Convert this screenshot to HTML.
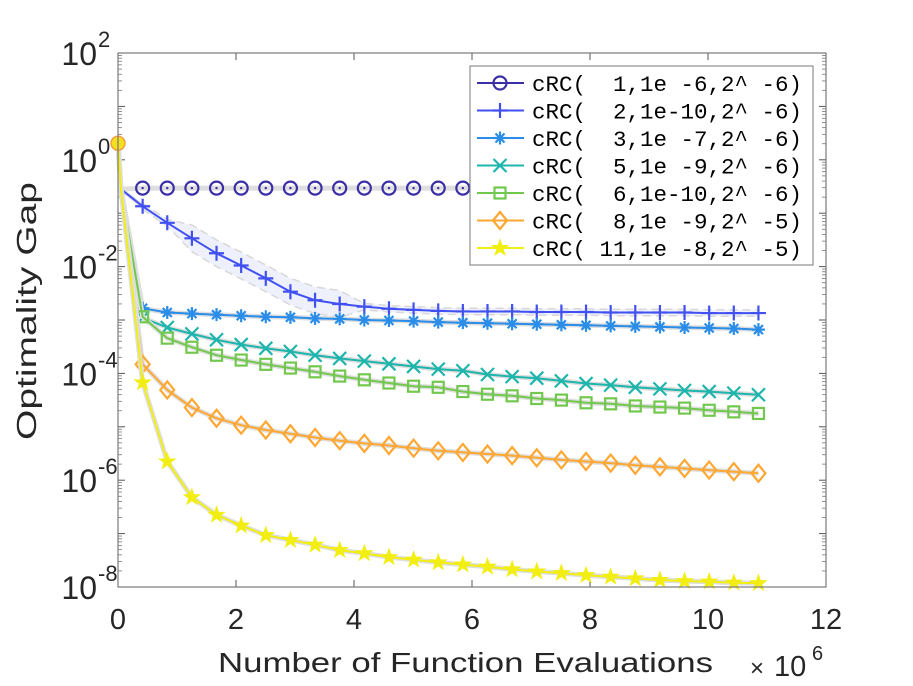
<!DOCTYPE html>
<html><head><meta charset="utf-8">
<style>
html,body{margin:0;padding:0;background:#fff;}
svg{display:block;font-family:"Liberation Sans",Arial,sans-serif;}
</style></head>
<body>
<svg id="chart" width="913" height="686" viewBox="0 0 913 686" xmlns="http://www.w3.org/2000/svg">
  <rect x="118" y="53" width="708" height="534" fill="#fff"/>
  <g id="grid-ticks"></g>
  <g id="series"></g>
  <rect x="118" y="53" width="708" height="534" fill="none" stroke="#7a7a7a" stroke-width="1.2"/>
  <g id="ylabels"></g>
  <g id="xlabels"></g>
  <text x="218" y="672" font-size="28" fill="#262626" textLength="495" lengthAdjust="spacingAndGlyphs">Number of Function Evaluations</text>
  <g>
    <text x="750" y="676" font-size="24" fill="#262626">×</text>
    <text x="774" y="676" font-size="29" fill="#262626">10</text>
    <text x="812" y="660" font-size="20" fill="#262626">6</text>
  </g>
  <text transform="translate(36,311) rotate(-90)" text-anchor="middle" font-size="28" fill="#262626" textLength="258" lengthAdjust="spacingAndGlyphs">Optimality Gap</text>
  <g id="legend"></g>
</svg>
<script>
// ---- data ----
const markerX = [0.4175,0.835,1.2525,1.67,2.0875,2.505,2.9225,3.34,3.7575,4.175,4.5925,5.01,5.4275,5.845,6.2625,6.68,7.0975,7.515,7.9325,8.35,8.7675,9.185,9.6025,10.02,10.4375,10.855];
const startX = [0, 0.05];
const startVals = [0.31, -0.55];
const seriesNames = ["cRC(  1,1e -6,2^ -6)","cRC(  2,1e-10,2^ -6)","cRC(  3,1e -7,2^ -6)","cRC(  5,1e -9,2^ -6)","cRC(  6,1e-10,2^ -6)","cRC(  8,1e -9,2^ -5)","cRC( 11,1e -8,2^ -5)"];
const s1 = [-0.53,-0.53,-0.53,-0.53,-0.53,-0.53,-0.53,-0.53,-0.53,-0.53,-0.53,-0.53,-0.53,-0.53,-0.53,-0.53,-0.53,-0.53,-0.53,-0.53,-0.53,-0.53,-0.53,-0.53,-0.53,-0.53];
const s2 = [-0.87,-1.18,-1.47,-1.75,-1.98,-2.22,-2.47,-2.63,-2.70,-2.75,-2.79,-2.81,-2.83,-2.84,-2.84,-2.84,-2.85,-2.85,-2.85,-2.86,-2.86,-2.86,-2.86,-2.87,-2.87,-2.87];
const s3 = [-2.78,-2.86,-2.88,-2.90,-2.92,-2.94,-2.95,-2.97,-2.98,-3.00,-3.01,-3.02,-3.04,-3.05,-3.06,-3.07,-3.08,-3.09,-3.10,-3.11,-3.12,-3.13,-3.14,-3.15,-3.16,-3.18];
const s5 = [-2.96,-3.14,-3.26,-3.37,-3.46,-3.53,-3.59,-3.66,-3.72,-3.77,-3.82,-3.87,-3.92,-3.95,-4.02,-4.06,-4.09,-4.14,-4.19,-4.22,-4.26,-4.29,-4.32,-4.34,-4.37,-4.40];
const s6 = [-2.94,-3.34,-3.51,-3.66,-3.75,-3.83,-3.90,-3.97,-4.05,-4.12,-4.18,-4.24,-4.26,-4.34,-4.39,-4.42,-4.47,-4.50,-4.55,-4.57,-4.61,-4.63,-4.65,-4.69,-4.72,-4.75];
const s8 = [-3.83,-4.31,-4.64,-4.84,-4.97,-5.06,-5.13,-5.20,-5.26,-5.31,-5.35,-5.40,-5.45,-5.48,-5.51,-5.54,-5.58,-5.62,-5.65,-5.68,-5.72,-5.75,-5.78,-5.81,-5.84,-5.87];
const s11 = [-4.17,-5.65,-6.32,-6.65,-6.85,-7.03,-7.12,-7.21,-7.31,-7.37,-7.44,-7.49,-7.54,-7.58,-7.62,-7.67,-7.71,-7.74,-7.78,-7.81,-7.84,-7.87,-7.89,-7.90,-7.92,-7.93];
const xTicks = [0,2,4,6,8,10,12];
const yTicks = [2,0,-2,-4,-6,-8];

const colors = ["#3b2fa6","#4150f0","#2a8de8","#1db5ac","#72c84e","#ffa733","#f2ee12"];
const markers = ["circle","plus","asterisk","x","square","diamond","star"];
const allSeries = [s1,s2,s3,s5,s6,s8,s11];

// ---- axes ----
const X0=118, X1=826, Y0=53, Y1=587;
function xs(v){return X0 + (v-0)/(12-0)*(X1-X0);}
function ys(L){return Y0 + (2-L)/(2-(-8))*(Y1-Y0);}
const NS="http://www.w3.org/2000/svg";
function mk(tag,attrs,parent){const e=document.createElementNS(NS,tag);for(const k in attrs)e.setAttribute(k,attrs[k]);parent.appendChild(e);return e;}

const tg=document.getElementById('grid-ticks');
xTicks.forEach(t=>{
  const l=mk('line',{x1:xs(t),x2:xs(t),y1:Y1,y2:Y1-7,stroke:'#555','stroke-width':1},tg);
  
  
  const l2=mk('line',{x1:xs(t),x2:xs(t),y1:Y0,y2:Y0+7,stroke:'#555','stroke-width':1},tg);
  
  
});
for(let d=2; d>=-8; d--){
  const l=mk('line',{x1:X0,x2:X0+7,y1:ys(d),y2:ys(d),stroke:'#555','stroke-width':1},tg);
  
  
  const r=mk('line',{x1:X1,x2:X1-7,y1:ys(d),y2:ys(d),stroke:'#555','stroke-width':1},tg);
  
  
  if(d>-8){for(let m=2;m<=9;m++){
    const yy=ys(d-1+Math.log10(m));
    const a=mk('line',{x1:X0,x2:X0+4,y1:yy,y2:yy,stroke:'#777','stroke-width':0.8},tg);
    
    
    const b=mk('line',{x1:X1,x2:X1-4,y1:yy,y2:yy,stroke:'#777','stroke-width':0.8},tg);
    
    
  }}
}
const yl=document.getElementById('ylabels');
yTicks.forEach(t=>{
  const g=mk('g',{},yl);
  
  
  const a=mk('text',{x:97,y:ys(t)+12,'font-size':32,'text-anchor':'end',fill:'#262626'},g);a.textContent='10';
  const b=mk('text',{x:98,y:ys(t)-6,'font-size':22,fill:'#262626'},g);b.textContent=String(t);
});
const xl=document.getElementById('xlabels');
xTicks.forEach(t=>{
  const e=mk('text',{x:xs(t),y:629,'font-size':29,'text-anchor':'middle',fill:'#262626'},xl);
  
  
  e.textContent=t;
});

// ---- markers ----
function drawMarker(type,cx,cy,col,parent){
  const s=6.5; let e;
  const st={stroke:col,'stroke-width':2.2,fill:'none'};
  if(type==='circle'){e=mk('g',{},parent);mk('circle',Object.assign({cx:cx,cy:cy,r:6.5},st),e);mk('circle',{cx:cx,cy:cy,r:1.2,fill:col},e);}
  else if(type==='plus'){e=mk('path',Object.assign({d:`M${cx-s-1},${cy}H${cx+s+1}M${cx},${cy-s-1}V${cy+s+1}`},st),parent);}
  else if(type==='x'){e=mk('path',Object.assign({d:`M${cx-s},${cy-s}L${cx+s},${cy+s}M${cx-s},${cy+s}L${cx+s},${cy-s}`},st),parent);}
  else if(type==='asterisk'){e=mk('path',Object.assign({d:`M${cx-s},${cy}H${cx+s}M${cx},${cy-s}V${cy+s}M${cx-4.5},${cy-4.5}L${cx+4.5},${cy+4.5}M${cx-4.5},${cy+4.5}L${cx+4.5},${cy-4.5}`},st),parent);}
  else if(type==='square'){e=mk('rect',Object.assign({x:cx-5.5,y:cy-5.5,width:11,height:11},st),parent);}
  else if(type==='diamond'){e=mk('path',Object.assign({d:`M${cx},${cy-8.5}L${cx+7},${cy}L${cx},${cy+8.5}L${cx-7},${cy}Z`},st),parent);}
  else {let p='';for(let i=0;i<10;i++){const r=i%2?3:7.5;const a=-Math.PI/2+i*Math.PI/5;p+=(i?'L':'M')+(cx+r*Math.cos(a)).toFixed(1)+','+(cy+r*Math.sin(a)).toFixed(1);}
    e=mk('path',{d:p+'Z',fill:col,stroke:col,'stroke-width':1.5},parent);}
  return e;
}

// ---- series ----
const sg=document.getElementById('series');
allSeries.forEach((vals,i)=>{
  const g=mk('g',{},sg);
  
  
  const px=startX.concat(markerX), pv=startVals.concat(vals);
  const d=px.map((x,j)=>(j?'L':'M')+xs(x).toFixed(1)+','+ys(pv[j]).toFixed(1)).join('');
  const band=mk('path',{d:d,stroke:'#dedede','stroke-width':i===1?4:5,fill:'none','stroke-linejoin':'round'},g);
  
  
  if(i===1){
    const up=markerX.map((x,j)=>[xs(x),ys(vals[j]+(j>1&&j<9?0.25:0.06))]);
    const lo=markerX.map((x,j)=>[xs(x),ys(vals[j]-(j>1&&j<9?0.25:0.06))]).reverse();
    const area=mk('path',{d:'M'+up.concat(lo).map(p=>p[0].toFixed(1)+','+p[1].toFixed(1)).join('L')+'Z',fill:'#eef0fc',stroke:'#d8d8d8','stroke-width':1.5,'stroke-dasharray':'8,5'},g);
    
    
  }
  const line=mk('path',{d:d,stroke:colors[i],'stroke-width':i===0?0:2,fill:'none','stroke-linejoin':'round'},g);
  
  
  markerX.forEach((x,j)=>{
    const m=drawMarker(markers[i],xs(x),ys(vals[j]),colors[i],g);
    
    
  });
});
const sp=mk('circle',{cx:xs(0),cy:ys(startVals[0]),r:7,fill:'#f5e020',stroke:'#f0a040','stroke-width':1.5},sg);



// ---- legend ----
const lg=document.getElementById('legend');
const box=mk('rect',{x:470,y:66,width:343,height:199,fill:'#fff',stroke:'#7a7a7a','stroke-width':1},lg);


seriesNames.forEach((n,i)=>{
  const y=83+i*27.5;
  const g=mk('g',{},lg);
  
  
  mk('line',{x1:477,x2:524,y1:y,y2:y,stroke:colors[i],'stroke-width':2},g);
  drawMarker(markers[i],500,y,colors[i],g);
  const t=mk('text',{x:532,y:y+8,'font-size':22,fill:'#000','font-family':'"Liberation Mono",monospace',textLength:270,lengthAdjust:'spacingAndGlyphs',style:'white-space:pre'},g);
  t.textContent=n;
});
</script>
</body></html>
